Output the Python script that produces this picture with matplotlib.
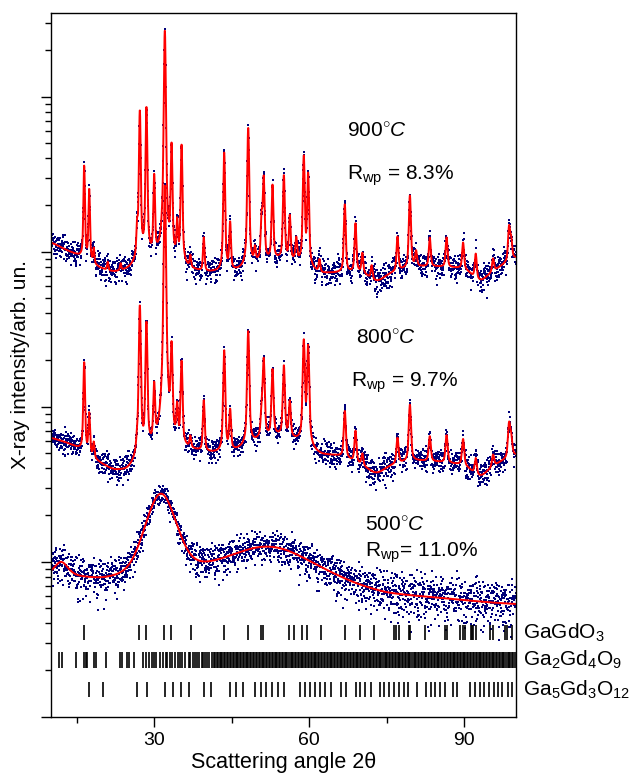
import matplotlib.pyplot as plt
import numpy as np
from matplotlib.ticker import LogLocator, NullFormatter, MultipleLocator

plt.rcParams['font.family'] = ['Liberation Sans', 'DejaVu Sans']
plt.rcParams['mathtext.fontset'] = 'custom'
plt.rcParams['mathtext.rm'] = 'Liberation Sans'
plt.rcParams['mathtext.it'] = 'Liberation Sans:italic'

# measured 2theta grid
step = 0.04
tth = np.arange(10, 100 + step / 2, step)

# background knots (2theta, intensity)
bg_x = [10, 13, 16, 19, 22, 25, 28, 31, 34, 37, 40, 43, 46, 50, 54, 58, 62,
        66, 70, 73, 76, 80, 85, 90, 93, 96, 100]
bg900 = [11500, 10200, 9200, 7900, 7300, 7600, 8800, 9000, 8500, 7600, 7300,
         7400, 7500, 8400, 8900, 8500, 7200, 7300, 7400, 6300, 7300, 8000,
         8000, 7800, 6300, 7600, 9200]
bg800 = [630, 585, 525, 440, 385, 380, 480, 540, 540, 520, 500, 500, 520, 600,
         650, 600, 490, 480, 420, 365, 420, 450, 440, 420, 345, 420, 490]
bg500_x = [10, 15, 20, 25, 30, 38, 45, 55, 65, 75, 85, 95, 100]
bg500 = [78, 75, 70, 68, 68, 68, 68, 68, 64, 58, 56, 53, 52]

# reflections: position (deg), height above background
pk900_pos = [16.45, 17.42, 18.3, 21.0, 23.5, 26.7, 27.22, 28.5, 30.0, 32.06,
             33.36, 34.45, 35.3, 37.0, 39.6, 43.55, 44.7, 48.2, 49.5, 50.8,
             51.2, 52.9, 55.1, 56.25, 57.5, 58.96, 59.8, 62.0, 66.9, 68.97,
             70.3, 72.1, 77.1, 79.5, 80.7, 83.35, 86.6, 89.8, 92.25, 95.6,
             98.7, 99.1]
pk900_h = [26800, 16700, 2100, 1000, 800, 5000, 73000, 77000, 21500, 260000,
           39800, 6600, 40800, 1500, 4850, 36100, 7800, 54700, 2000, 8000,
           21500, 18200, 22300, 8200, 3500, 33000, 23700, 1500, 12900, 7800,
           2500, 1500, 5000, 15200, 2000, 4300, 4400, 3700, 3000, 1600,
           5700, 3000]
pk800_pos = [16.45, 17.42, 18.3, 26.7, 27.22, 28.5, 30.0, 32.06, 33.36, 34.45,
             35.3, 37.0, 39.6, 43.55, 44.7, 48.2, 50.8, 51.2, 52.9, 55.1,
             56.25, 58.96, 59.8, 66.9, 68.97, 70.3, 77.1, 79.5, 83.35, 86.6,
             89.8, 92.25, 95.6, 98.7, 99.1]
pk800_h = [1420, 415, 120, 80, 4030, 3000, 800, 26350, 1840, 410,
           1400, 100, 585, 1800, 430, 2500, 300, 1400, 1100, 1200,
           450, 2090, 1900, 470, 260, 80, 200, 585, 200, 220,
           200, 100, 80, 300, 150]
# amorphous humps of the 500 C sample: position, height, fwhm
pk500_pos = [12.0, 31.3, 52.0]
pk500_h = [19, 200, 55]
pk500_w = [3.0, 6.0, 20.0]

# fixed list of normalised residuals (obs - calc) / sigma
resid = [0.3, -1.2, 0.8, 1.5, -0.4, -2.1, 0.1, 0.9, -0.7, 1.1, -1.6, 0.5, 2.2,
         -0.2, -0.9, 0.6, -1.3, 1.8, -0.5, 0.0, 1.0, -2.4, 0.7, -0.1, 1.3, -0.8,
         0.4, -1.5, 2.0, -0.3, 0.9, -1.0, 0.2, 1.6, -1.9, 0.6, -0.6, 1.2, -0.2,
         -1.1, 2.6, 0.1, -0.7, 0.8, -1.4, 0.3, 1.7, -0.9, -0.4, 1.0, -2.0, 0.5,
         0.2, -1.2, 1.4, -0.5, 0.9, -0.1, -1.7, 1.1, 0.4, -0.8, 2.1, -1.0, 0.0,
         0.7, -1.3, 1.9, -0.6, -0.2, 1.2, -2.2, 0.8, 0.3, -0.9, 1.5, -0.4, -1.1,
         0.6, 1.0, -0.3, -1.6, 2.3, 0.1, -0.7, 0.9, -1.8, 0.5, 1.3, -0.5, -0.1,
         1.1, -1.4, 0.2, 0.7, -1.0, 1.6]

# tick marks of the phases
gagdo3 = [16.32, 27.1, 28.5, 31.9, 33.3, 37.2, 43.5, 48.1, 50.7, 51.0, 56.1,
          57.0, 58.6, 59.6, 62.3, 66.85, 69.75, 72.55, 76.4, 76.9, 77.35, 79.25,
          79.6, 82.35, 86.3, 86.65, 89.25, 89.7, 90.2, 91.25, 91.55, 91.8,
          92.3, 95.0, 95.5, 97.9, 98.3, 99.35]
ga2gd4o9 = [11.55, 12.19, 14.84, 16.39, 16.71, 17.03, 18.32, 18.71, 20.58,
            23.35, 23.74, 24.77, 25.1, 26.06, 27.87, 28.32, 28.9, 29.55, 29.94,
            30.32, 31.1, 31.74, 32.19, 32.52, 33.03, 33.48, 34.06, 34.52, 34.97,
            35.42, 35.87, 36.65, 36.97, 37.42, 37.94, 38.32, 38.71, 39.16,
            39.48, 39.87, 40.26, 40.65, 41.16,
            41.55, 41.85, 42.1, 42.4, 42.65, 42.95, 43.2, 43.5, 43.8, 44.05,
            44.35, 44.6, 44.9, 45.2, 45.45, 45.75, 46.0, 46.3, 46.6, 46.85,
            47.15, 47.4, 47.7, 48.0, 48.25, 48.55, 48.8, 49.1, 49.4, 49.65,
            49.95, 50.2, 50.5, 50.8, 51.05, 51.35, 51.6, 51.9, 52.2, 52.45,
            52.75, 53.0, 53.3, 53.6, 53.85, 54.15, 54.4, 54.7, 55.0, 55.25,
            55.55, 55.8, 56.1, 56.4, 56.65, 56.95, 57.2, 57.5, 57.8, 58.05,
            58.35, 58.6, 58.9, 59.2, 59.45, 59.75, 60.0, 60.3, 60.6, 60.85,
            61.15, 61.4, 61.7, 62.0, 62.25, 62.55, 62.8, 63.1, 63.4, 63.65,
            63.95, 64.2, 64.5, 64.8, 65.05, 65.35, 65.6, 65.9, 66.2, 66.45,
            66.75, 67.0, 67.3, 67.6, 67.85, 68.15, 68.4, 68.7, 69.0, 69.25,
            69.55, 69.8, 70.1, 70.4, 70.65, 70.95, 71.2, 71.5, 71.8, 72.05,
            72.35, 72.6, 72.9, 73.2, 73.45, 73.75, 74.0, 74.3, 74.6, 74.85,
            75.15, 75.4, 75.7, 76.0, 76.25, 76.55, 76.8, 77.1, 77.4, 77.65,
            77.95, 78.2, 78.5, 78.8, 79.05, 79.35, 79.6, 79.9, 80.2, 80.45,
            80.75, 81.0, 81.3, 81.6, 81.85, 82.15, 82.4, 82.7, 83.0, 83.25,
            83.55, 83.8, 84.1, 84.4, 84.65, 84.95, 85.2, 85.5, 85.8, 86.05,
            86.35, 86.6, 86.9, 87.2, 87.45, 87.75, 88.0, 88.3, 88.6, 88.85,
            89.15, 89.4, 89.7, 90.0, 90.25, 90.55, 90.8, 91.1, 91.4, 91.65,
            91.95, 92.2, 92.5, 92.8, 93.05, 93.35, 93.6, 93.9, 94.2, 94.45,
            94.75, 95.0, 95.3, 95.6, 95.85, 96.15, 96.4, 96.7, 97.0, 97.25,
            97.55, 97.8, 98.1, 98.4, 98.65, 98.95, 99.2, 99.5, 99.8]
ga5gd3o12 = [17.35, 20.13, 26.7, 28.65, 32.06, 33.55, 35.1, 36.65, 39.6, 40.9,
             44.7, 45.9, 47.2, 49.55, 50.6, 51.6, 52.8, 53.9, 55.1, 58.2, 59.2,
             60.1, 61.1, 62.1, 63.1, 64.3, 66.1, 67.1, 69.0, 69.9, 70.9, 71.9,
             73.7, 74.5, 75.4, 76.4, 77.3, 78.3, 79.2, 80.8, 82.6, 83.5, 84.4,
             85.3, 86.3, 87.9, 88.6, 91.2, 92.1, 93.0, 93.9, 94.8, 95.7, 96.5,
             97.4, 98.4, 99.2]


def pvoigt(x, x0, fwhm, eta=0.5):
    d = (x - x0) / fwhm
    return eta / (1 + 4 * d ** 2) + (1 - eta) * np.exp(-4 * np.log(2) * d ** 2)


def smooth_bg(kx, ky):
    b = np.interp(tth, kx, ky)
    n = 25
    pad = np.concatenate([np.full(n, b[0]), b, np.full(n, b[-1])])
    return np.convolve(pad, np.ones(2 * n + 1) / (2 * n + 1), mode='same')[n:-n]


def pattern(kx, ky, pos, h, w0, widths=None):
    calc = smooth_bg(kx, ky)
    for i, (p, a) in enumerate(zip(pos, h)):
        w = widths[i] if widths is not None else w0 * (1 + 0.006 * (p - 10))
        calc = calc + a * pvoigt(tth, p, w)
    return calc


def observed(calc, k, s1, s2):
    r = np.array(resid)
    i = np.arange(len(calc))
    noise = (r[(i * s1) % 97] + r[(i * s2 + 11) % 89]) / np.sqrt(2)
    return np.clip(calc + k * np.sqrt(calc) * noise, 1, None)


calc900 = pattern(bg_x, bg900, pk900_pos, pk900_h, 0.28)
calc800 = pattern(bg_x, bg800, pk800_pos, pk800_h, 0.32)
calc500 = pattern(bg500_x, bg500, pk500_pos, pk500_h, 0, pk500_w)

fig = plt.figure(figsize=(6.36, 7.78), dpi=100)
ax = fig.add_axes([0.080, 0.0788, 0.731, 0.9045])

for calc, k, s1, s2 in [(calc900, 7.5, 13, 7), (calc800, 1.7, 31, 17),
                        (calc500, 1.1, 41, 23)]:
    ax.plot(tth, observed(calc, k, s1, s2), ls='none', marker='s', ms=2.1,
            mew=0, color='#00007a')
    ax.plot(tth, calc, color='red', lw=1.4)

ax.set_yscale('log')
ax.set_xlim(10, 100)
ax.set_ylim(10, 3.467e5)
ax.yaxis.set_major_locator(LogLocator(base=10, numticks=20))
ax.yaxis.set_minor_locator(LogLocator(base=10, subs=np.arange(2, 10), numticks=20))
ax.yaxis.set_major_formatter(NullFormatter())
ax.yaxis.set_minor_formatter(NullFormatter())
ax.xaxis.set_major_locator(MultipleLocator(30))
ax.xaxis.set_minor_locator(MultipleLocator(15))
ax.tick_params(which='major', direction='out', length=7.5, width=1.0, labelsize=14)
ax.tick_params(which='minor', direction='out', length=4.5, width=1.0)
for s in ax.spines.values():
    s.set_linewidth(1.0)

# phase reflection markers
tr = ax.get_xaxis_transform()
rows = [(gagdo3, 0.130, 0.109, 'GaGdO$_3$', 0.119),
        (ga2gd4o9, 0.092, 0.069, 'Ga$_2$Gd$_4$O$_9$', 0.081),
        (ga5gd3o12, 0.049, 0.028, 'Ga$_5$Gd$_3$O$_{12}$', 0.038)]
for pos, y0, y1, lab, yl in rows:
    ax.vlines(pos, y0, y1, transform=tr, colors='black', lw=1.2)
    ax.text(1.016, yl, lab, transform=ax.transAxes, va='center', ha='left',
            fontsize=15)

ax.text(0.637, 0.824, r'900$^{\circ}C$', transform=ax.transAxes, fontsize=15)
ax.text(0.637, 0.763, r'R$_{\rm wp}$ = 8.3%', transform=ax.transAxes, fontsize=15)
ax.text(0.657, 0.531, r'800$^{\circ}C$', transform=ax.transAxes, fontsize=15)
ax.text(0.645, 0.469, r'R$_{\rm wp}$ = 9.7%', transform=ax.transAxes, fontsize=15)
ax.text(0.675, 0.264, r'500$^{\circ}C$', transform=ax.transAxes, fontsize=15)
ax.text(0.675, 0.228, r'R$_{\rm wp}$= 11.0%', transform=ax.transAxes, fontsize=15)

ax.set_xlabel('Scattering angle 2θ', fontsize=15.5, labelpad=2)
ax.set_ylabel('X-ray intensity/arb. un.', fontsize=15, labelpad=4)

fig.savefig('out.png', dpi=100)
